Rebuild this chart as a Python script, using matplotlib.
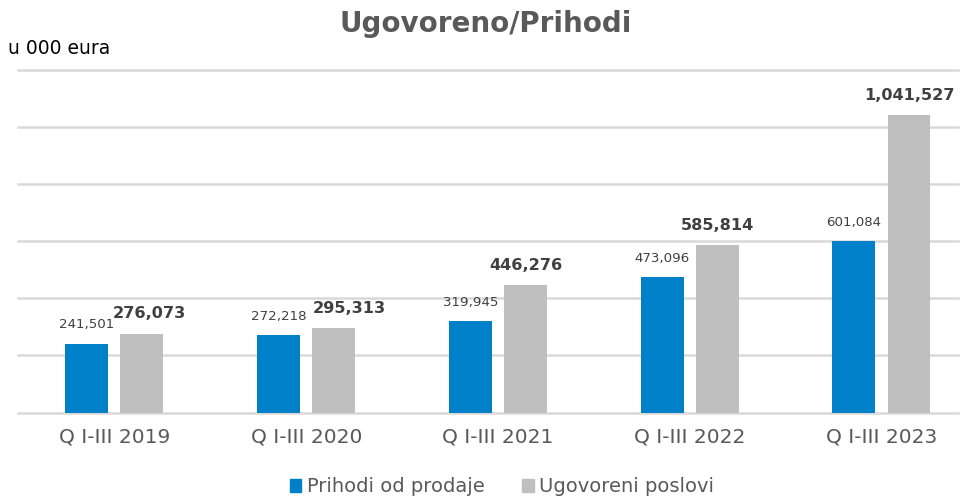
import numpy as np
import matplotlib
matplotlib.use("Agg")
import matplotlib.pyplot as plt
from matplotlib.patches import Patch

categories = ["Q I-III 2019", "Q I-III 2020", "Q I-III 2021", "Q I-III 2022", "Q I-III 2023"]
prihodi = [241501, 272218, 319945, 473096, 601084]
ugovoreno = [276073, 295313, 446276, 585814, 1041527]
series_names = ["Prihodi od prodaje", "Ugovoreni poslovi"]

blue = "#0080C8"
grey = "#BFBFBF"
grid_col = "#D9D9D9"
text_col = "#595959"
label_col = "#404040"

# label nudges (points) for the bold labels, as moved in the original
grey_label_dx = [5.4, 11.5, 0, 0, 0]

plt.rcParams["font.family"] = ["DejaVu Sans"]

fig = plt.figure(figsize=(9.71, 4.98), dpi=100)
ax = fig.add_axes([18 / 971, 1 - 412.5 / 498, 940 / 971, 342.5 / 498])

x = np.arange(len(categories))
w = 0.224
off = 0.1435

ax.bar(x - off, prihodi, w, color=blue, zorder=3)
ax.bar(x + off, ugovoreno, w, color=grey, zorder=3)

for i in range(len(categories)):
    ax.annotate(f"{prihodi[i]:,}", (x[i] - off, prihodi[i]), xytext=(0, 11),
                textcoords="offset points", ha="center", va="baseline",
                fontsize=9.6, color=label_col)
    ax.annotate(f"{ugovoreno[i]:,}", (x[i] + off, ugovoreno[i]),
                xytext=(grey_label_dx[i], 11), textcoords="offset points",
                ha="center", va="baseline", fontsize=11.6, fontweight="bold",
                color=label_col)

ax.set_ylim(0, 1200000)
ax.set_xlim(-0.503, 4.399)
ax.set_yticks(np.arange(0, 1200001, 200000))
ax.yaxis.grid(True, color=grid_col, linewidth=1.8, zorder=0)
for gl in ax.get_ygridlines():
    gl.set_clip_on(False)
ax.set_yticklabels([])
ax.tick_params(axis="y", length=0)
ax.set_xticks(x)
ax.set_xticklabels(categories, fontsize=14.5, color=text_col)
ax.tick_params(axis="x", length=0, pad=11)
for s in ax.spines.values():
    s.set_visible(False)

fig.text(486 / 971, 1 - 24 / 498, "Ugovoreno/Prihodi", ha="center", va="center",
         fontsize=20, fontweight="bold", color=text_col)
fig.text(8 / 971, 1 - 49 / 498, "u 000 eura", ha="left", va="center",
         fontsize=13.5, color="black")

handles = [Patch(color=blue), Patch(color=grey)]
fig.legend(handles, series_names, loc="center", bbox_to_anchor=(502 / 971, 1 - 487 / 498),
           ncol=2, frameon=False, fontsize=14, handlelength=0.6, handleheight=0.6,
           handletextpad=0.3, columnspacing=1.9, labelcolor=text_col)

fig.savefig("out.png", dpi=100)
